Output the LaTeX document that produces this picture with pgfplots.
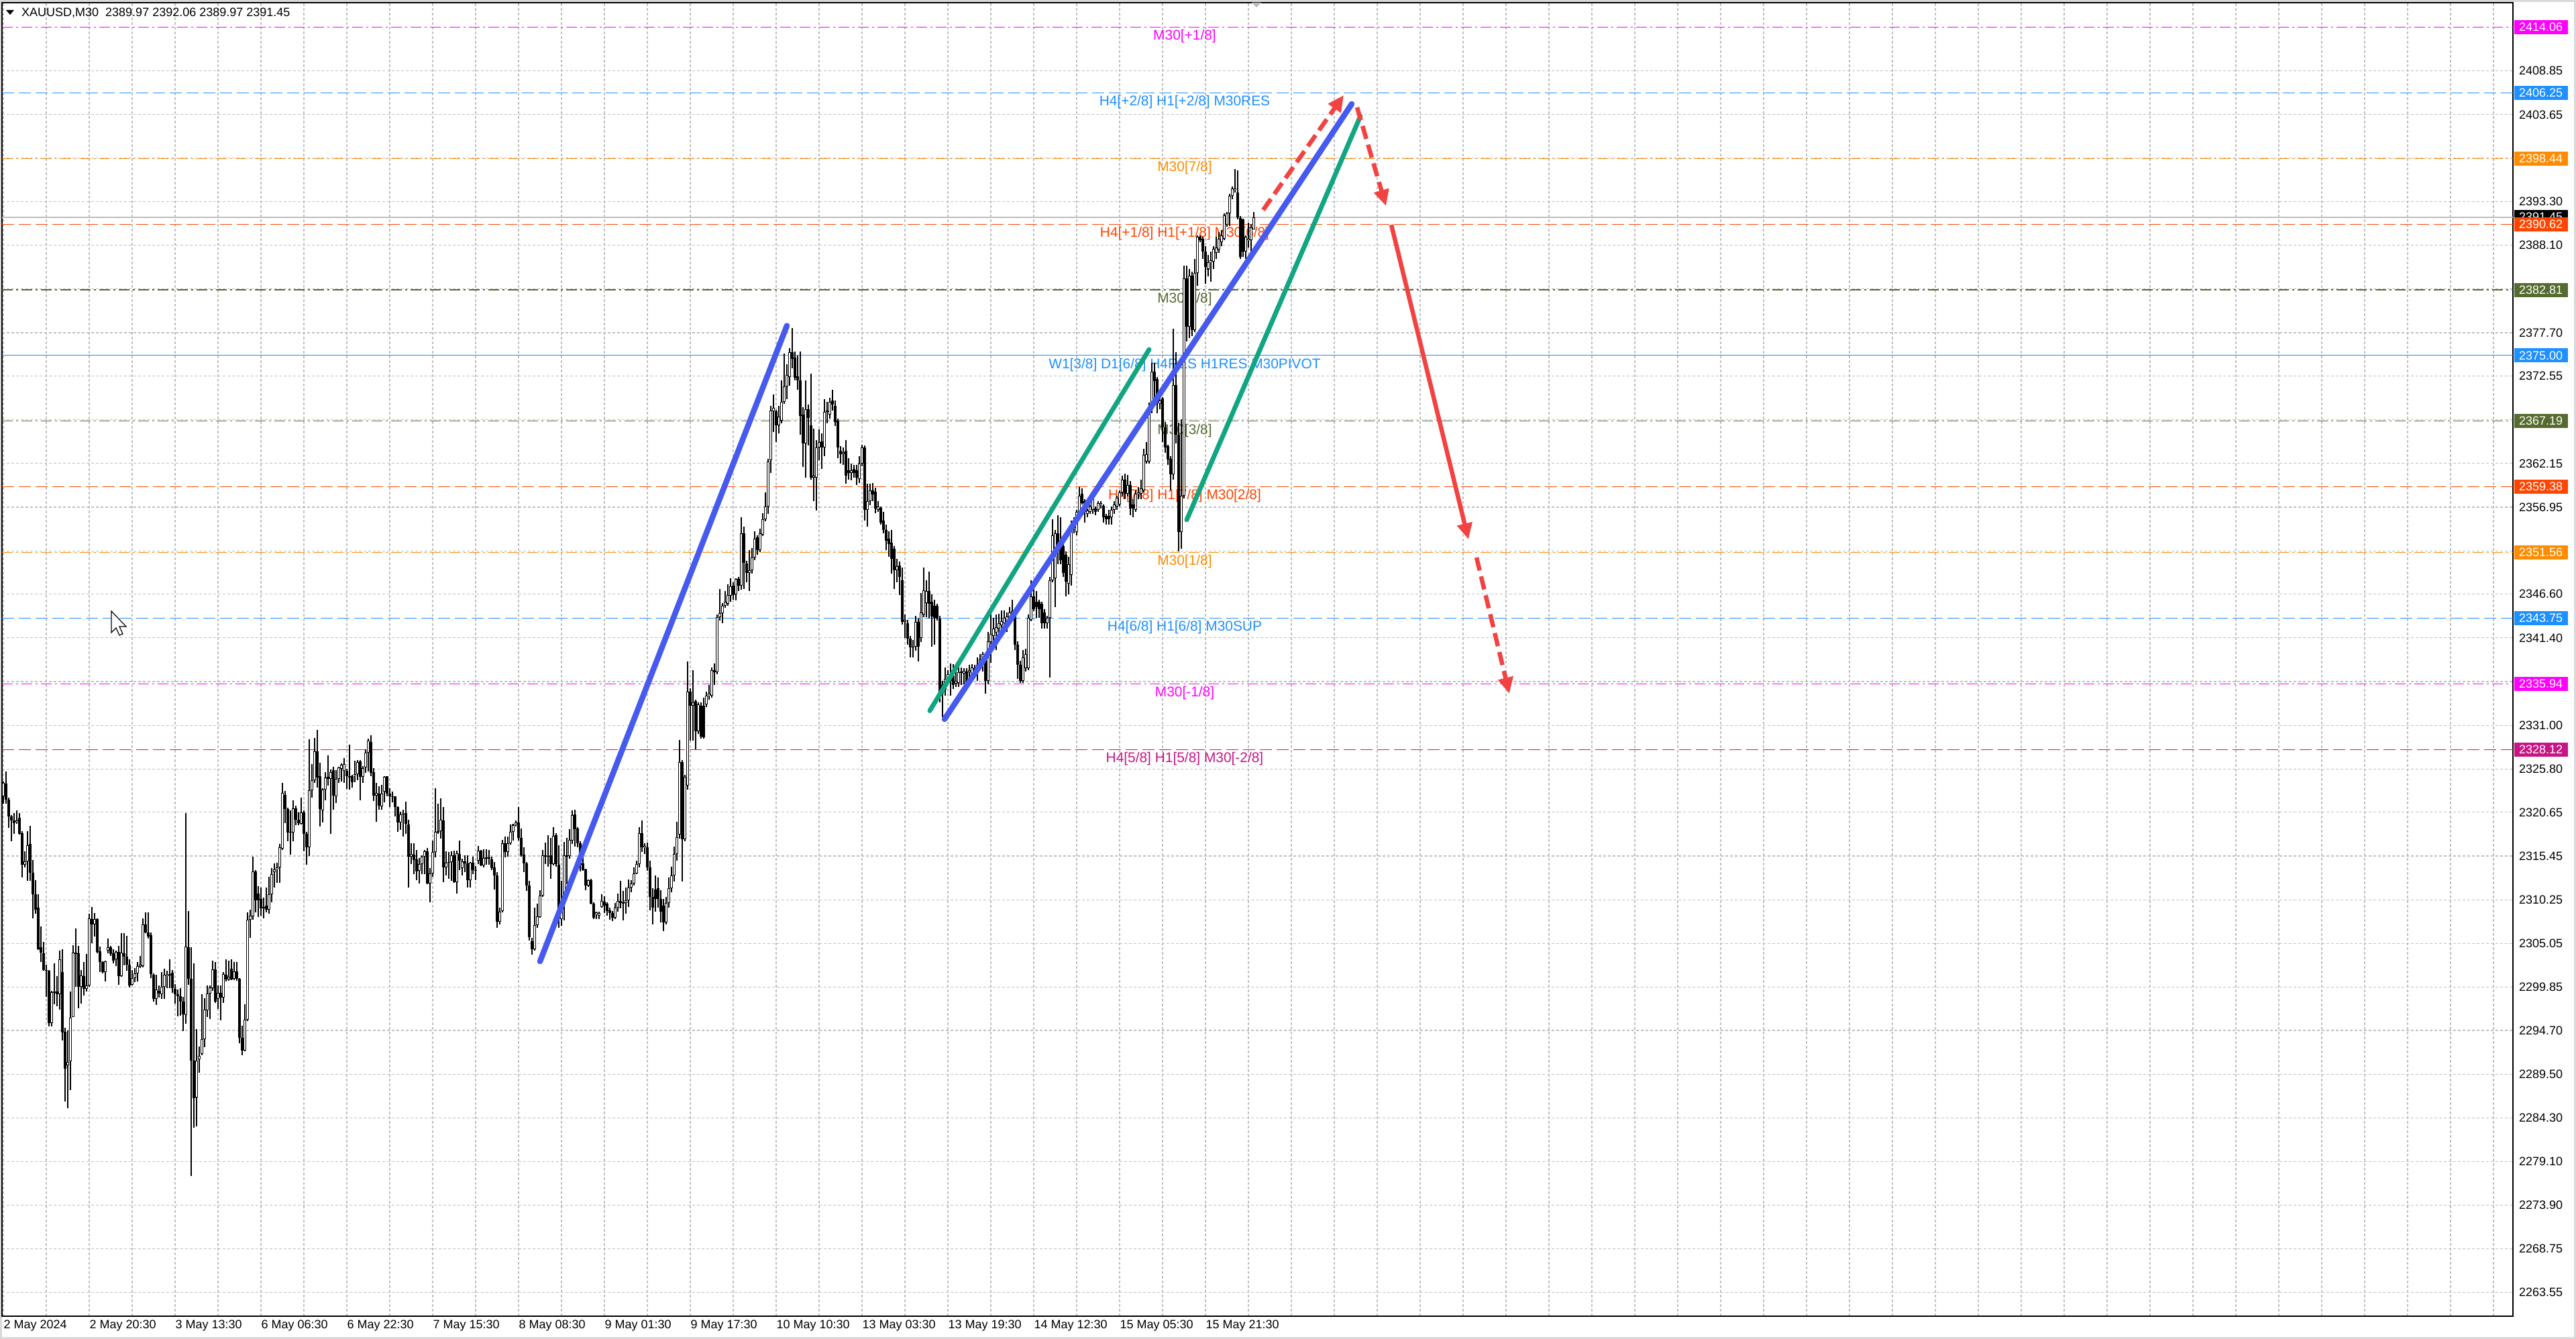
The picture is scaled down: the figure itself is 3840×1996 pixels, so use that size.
\documentclass[border=0pt]{standalone}
\usepackage{fontspec}
\setmainfont{Liberation Sans}
\usepackage{pgfplots}
\pgfplotsset{compat=1.18}
\usepackage{pgfplotstable}
\usetikzlibrary{arrows.meta}

\definecolor{lvMagenta}{RGB}{255,0,255}
\definecolor{lvBlue}{RGB}{30,144,255}
\definecolor{lvOrange}{RGB}{255,140,0}
\definecolor{lvRed}{RGB}{255,69,0}
\definecolor{lvOlive}{RGB}{85,107,47}
\definecolor{lvViolet}{RGB}{199,21,133}
\definecolor{trendBlue}{RGB}{70,90,240}
\definecolor{trendGreen}{RGB}{18,165,130}
\definecolor{arrowRed}{RGB}{242,66,66}
\definecolor{gridGray}{RGB}{192,192,192}
\definecolor{bidGray}{RGB}{190,190,190}

% XAUUSD M30 bars: index, open, high, low, close
\pgfplotstableread{
i o h l c
0 2322.58 2324.31 2321.71 2324.13
1 2324.07 2325.52 2321.71 2322.16
2 2322.16 2322.40 2318.77 2320.15
3 2320.15 2320.30 2317.20 2319.70
4 2319.70 2320.60 2318.10 2319.40
5 2319.50 2320.90 2319.30 2319.70
6 2320.00 2320.60 2318.00 2318.08
7 2318.20 2318.40 2312.90 2314.44
8 2314.44 2316.00 2314.10 2314.86
9 2314.86 2318.40 2312.50 2316.76
10 2316.87 2319.05 2312.50 2313.50
11 2313.50 2315.00 2308.00 2310.88
12 2310.88 2312.60 2308.60 2309.08
13 2309.30 2310.90 2304.30 2304.40
14 2304.58 2307.07 2302.85 2303.99
15 2303.90 2305.27 2301.80 2301.91
16 2301.91 2302.50 2298.70 2301.80
17 2301.80 2301.85 2295.20 2295.58
18 2295.58 2299.45 2295.20 2299.28
19 2299.28 2302.67 2297.83 2299.30
20 2299.30 2301.20 2297.60 2299.00
21 2299.04 2304.23 2297.14 2303.19
22 2301.63 2304.40 2293.50 2294.47
23 2294.54 2295.06 2286.23 2290.14
24 2290.56 2294.70 2285.44 2291.00
25 2291.00 2299.30 2287.60 2296.20
26 2296.34 2304.85 2296.27 2303.96
27 2303.96 2306.83 2299.90 2303.82
28 2303.89 2304.75 2297.30 2299.90
29 2299.90 2301.90 2297.90 2301.22
30 2301.19 2302.85 2298.87 2299.66
31 2299.66 2303.80 2299.30 2300.08
32 2300.08 2308.56 2299.90 2308.04
33 2307.97 2309.42 2305.10 2307.35
34 2307.35 2308.70 2305.86 2307.97
35 2307.97 2308.04 2303.89 2304.06
36 2304.13 2304.65 2301.64 2302.85
37 2302.85 2302.92 2301.46 2301.64
38 2301.64 2303.00 2300.50 2302.92
39 2304.23 2305.60 2303.90 2304.58
40 2304.58 2304.75 2303.54 2303.82
41 2303.90 2304.40 2302.67 2303.02
42 2303.13 2304.23 2302.33 2304.06
43 2304.06 2304.75 2300.15 2301.19
44 2301.19 2306.24 2301.05 2303.96
45 2303.89 2306.24 2302.43 2303.47
46 2303.47 2305.96 2301.81 2302.50
47 2302.50 2303.19 2299.80 2300.08
48 2300.15 2301.91 2300.08 2300.94
49 2300.94 2302.15 2300.42 2301.46
50 2301.46 2302.85 2300.50 2302.33
51 2302.33 2303.60 2302.15 2302.50
52 2302.33 2308.04 2302.22 2307.35
53 2307.35 2308.73 2306.24 2306.38
54 2306.38 2308.73 2305.62 2305.86
55 2306.03 2306.38 2300.94 2301.39
56 2301.29 2301.46 2298.17 2298.45
57 2298.45 2301.36 2297.72 2299.56
58 2299.39 2300.08 2298.62 2299.11
59 2299.04 2301.63 2298.42 2299.90
60 2299.90 2302.05 2298.42 2301.36
61 2301.19 2301.80 2299.73 2301.36
62 2301.46 2303.13 2299.73 2301.29
63 2301.56 2301.88 2299.21 2299.73
64 2299.66 2300.25 2297.93 2299.04
65 2299.04 2299.56 2296.38 2298.76
66 2298.80 2299.73 2296.45 2298.17
67 2298.17 2298.69 2294.61 2296.62
68 2296.58 2320.57 2295.50 2304.65
69 2304.65 2308.90 2300.15 2300.84
70 2300.84 2304.58 2277.40 2291.08
71 2291.08 2302.67 2283.12 2286.68
72 2286.75 2294.89 2283.29 2291.08
73 2291.25 2292.81 2289.69 2291.70
74 2291.94 2299.04 2291.77 2293.68
75 2293.68 2298.52 2292.74 2297.14
76 2297.14 2300.08 2296.27 2299.11
77 2299.11 2300.08 2296.10 2299.80
78 2299.73 2303.02 2299.39 2301.98
79 2301.98 2302.85 2298.00 2298.17
80 2298.45 2300.08 2297.24 2299.21
81 2299.21 2300.08 2295.92 2298.62
82 2298.62 2301.63 2298.00 2301.39
83 2301.29 2303.19 2300.50 2300.77
84 2300.77 2303.02 2300.60 2301.12
85 2302.08 2303.13 2300.70 2300.77
86 2300.84 2302.85 2300.70 2301.74
87 2301.74 2302.85 2300.60 2300.84
88 2300.84 2300.94 2293.16 2293.85
89 2293.85 2295.23 2291.77 2292.29
90 2292.29 2297.83 2292.19 2295.99
91 2295.99 2308.73 2295.85 2307.87
92 2307.87 2309.08 2305.69 2308.32
93 2308.32 2315.38 2307.87 2313.65
94 2313.65 2313.75 2308.73 2310.19
95 2310.98 2311.85 2308.21 2310.19
96 2310.39 2311.67 2308.32 2309.25
97 2309.42 2310.53 2308.04 2309.25
98 2309.53 2311.67 2308.73 2309.08
99 2309.08 2312.95 2308.56 2310.88
100 2310.88 2313.99 2309.94 2313.30
101 2313.51 2314.55 2311.67 2313.85
102 2313.85 2314.69 2312.26 2314.10
103 2314.10 2316.87 2312.26 2316.52
104 2316.35 2324.13 2316.17 2322.99
105 2322.75 2323.20 2319.39 2321.02
106 2321.02 2321.19 2317.21 2318.25
107 2318.25 2320.85 2315.59 2318.35
108 2318.25 2322.06 2317.21 2321.12
109 2321.12 2321.47 2319.11 2319.80
110 2319.80 2320.67 2319.11 2319.39
111 2319.29 2322.40 2319.18 2320.67
112 2320.67 2320.85 2316.00 2318.08
113 2318.08 2318.35 2314.44 2316.52
114 2316.52 2329.33 2315.48 2323.27
115 2323.27 2326.38 2322.40 2324.48
116 2324.48 2329.50 2324.13 2327.94
117 2327.94 2330.43 2323.62 2324.83
118 2325.00 2326.58 2318.94 2321.02
119 2320.86 2323.52 2319.45 2323.38
120 2323.33 2325.43 2322.11 2324.77
121 2324.85 2327.43 2323.86 2324.66
122 2324.66 2325.78 2318.06 2325.43
123 2325.64 2326.04 2320.94 2322.64
124 2322.60 2325.64 2321.73 2324.66
125 2324.66 2326.10 2324.18 2325.99
126 2325.83 2326.44 2324.31 2326.31
127 2325.56 2327.10 2324.18 2326.36
128 2325.56 2325.83 2323.44 2324.93
129 2324.93 2328.70 2323.38 2324.85
130 2324.93 2325.11 2323.60 2324.23
131 2325.00 2326.79 2324.23 2325.19
132 2325.19 2326.84 2324.50 2326.63
133 2326.71 2326.90 2322.10 2324.85
134 2324.85 2326.18 2324.18 2325.91
135 2326.00 2328.17 2325.38 2327.77
136 2327.77 2329.45 2325.51 2329.18
137 2329.02 2329.82 2324.98 2325.38
138 2325.43 2325.91 2322.00 2322.64
139 2322.64 2324.18 2319.53 2322.98
140 2322.90 2323.78 2320.94 2321.47
141 2321.39 2323.92 2320.99 2322.90
142 2323.12 2324.98 2321.84 2324.85
143 2324.93 2324.98 2322.58 2322.85
144 2322.85 2323.52 2321.26 2322.53
145 2322.58 2323.12 2321.84 2322.53
146 2322.53 2322.58 2320.19 2321.31
147 2321.31 2321.39 2318.33 2319.45
148 2319.45 2320.72 2318.59 2320.40
149 2320.40 2320.99 2317.80 2320.50
150 2320.59 2321.92 2318.06 2319.26
151 2319.18 2319.79 2311.68 2315.40
152 2315.35 2316.99 2314.47 2315.67
153 2315.59 2316.99 2313.27 2315.00
154 2315.08 2316.20 2312.61 2313.67
155 2313.67 2315.19 2312.16 2314.47
156 2314.47 2315.54 2313.27 2315.35
157 2315.35 2316.20 2313.27 2315.99
158 2315.99 2316.41 2312.08 2312.21
159 2312.21 2314.02 2309.95 2313.41
160 2313.41 2317.26 2313.01 2315.94
161 2315.94 2323.52 2315.27 2318.33
162 2318.33 2321.65 2318.06 2318.38
163 2318.38 2322.32 2317.53 2319.79
164 2319.71 2321.26 2312.34 2314.07
165 2314.07 2315.99 2313.14 2314.66
166 2314.66 2315.94 2312.74 2314.74
167 2314.74 2315.99 2312.48 2315.54
168 2315.54 2316.07 2312.26 2312.34
169 2312.34 2316.07 2311.01 2315.80
170 2315.72 2317.32 2313.81 2314.87
171 2314.02 2315.14 2313.14 2314.82
172 2314.82 2315.54 2313.54 2314.55
173 2314.55 2315.54 2311.73 2312.61
174 2312.61 2314.74 2311.73 2314.66
175 2314.66 2315.40 2313.27 2313.75
176 2313.67 2314.28 2312.61 2313.81
177 2314.87 2316.68 2314.47 2316.07
178 2316.07 2316.20 2314.28 2314.34
179 2314.34 2316.25 2314.07 2315.19
180 2315.14 2316.25 2314.39 2315.27
181 2315.14 2316.15 2314.39 2315.27
182 2315.08 2315.40 2313.81 2314.02
183 2314.07 2314.74 2311.47 2313.14
184 2313.14 2313.54 2306.89 2307.63
185 2307.63 2309.28 2307.29 2308.88
186 2308.88 2317.40 2308.75 2316.99
187 2316.99 2317.74 2315.27 2315.94
188 2315.94 2317.80 2315.35 2316.99
189 2316.99 2319.18 2316.78 2318.33
190 2318.33 2319.26 2317.26 2319.18
191 2319.18 2319.71 2318.99 2319.45
192 2319.45 2321.26 2317.26 2317.58
193 2317.58 2318.73 2315.40 2315.54
194 2315.62 2316.47 2313.54 2314.55
195 2314.55 2314.74 2311.28 2311.99
196 2311.99 2312.47 2305.43 2305.77
197 2305.35 2305.69 2303.70 2304.36
198 2304.36 2309.28 2304.23 2307.21
199 2307.21 2309.82 2306.89 2308.27
200 2308.22 2311.41 2308.09 2310.75
201 2310.75 2316.15 2310.62 2315.54
202 2315.54 2317.05 2314.47 2315.40
203 2315.40 2317.92 2314.21 2315.46
204 2315.54 2317.58 2312.74 2314.47
205 2314.47 2318.86 2314.34 2317.85
206 2317.92 2318.19 2314.21 2314.47
207 2314.39 2316.73 2306.89 2307.95
208 2307.95 2312.47 2307.16 2310.14
209 2310.14 2317.13 2307.82 2315.54
210 2315.46 2317.58 2312.08 2315.54
211 2315.46 2318.65 2315.14 2317.40
212 2317.32 2320.86 2316.87 2320.32
213 2320.40 2320.94 2316.60 2318.65
214 2318.73 2318.86 2316.52 2316.95
215 2316.95 2317.21 2313.59 2314.39
216 2314.55 2315.67 2313.67 2313.81
217 2313.86 2313.94 2311.36 2311.94
218 2311.94 2312.69 2311.81 2312.61
219 2312.61 2312.74 2309.68 2309.81
220 2309.81 2309.95 2307.95 2308.09
221 2308.48 2308.83 2307.95 2308.75
222 2308.35 2308.80 2307.95 2308.69
223 2309.41 2310.88 2309.28 2310.08
224 2310.03 2310.67 2308.69 2309.55
225 2309.81 2309.95 2308.35 2308.96
226 2309.01 2309.28 2307.90 2308.69
227 2308.69 2308.88 2307.69 2308.09
228 2308.09 2309.87 2307.95 2309.28
229 2309.28 2311.01 2308.80 2310.08
230 2310.08 2312.47 2309.23 2309.87
231 2309.87 2311.28 2307.82 2309.95
232 2309.87 2311.68 2308.62 2310.22
233 2310.22 2312.69 2309.41 2311.68
234 2311.68 2312.61 2311.15 2312.21
235 2312.21 2314.07 2311.94 2313.41
236 2313.41 2314.87 2313.27 2314.47
237 2314.47 2318.91 2314.07 2318.19
238 2318.19 2319.71 2315.94 2316.47
239 2316.47 2316.99 2315.67 2316.68
240 2316.52 2317.05 2313.67 2314.07
241 2314.10 2314.90 2309.00 2310.60
242 2310.60 2311.62 2307.30 2309.33
243 2311.47 2313.15 2308.83 2310.35
244 2311.62 2312.90 2309.33 2310.35
245 2310.35 2311.37 2307.55 2308.83
246 2309.59 2310.35 2306.53 2307.55
247 2307.55 2310.60 2307.30 2309.84
248 2309.84 2312.90 2309.33 2311.62
249 2311.62 2314.17 2311.11 2313.15
250 2313.15 2316.56 2312.39 2315.69
251 2315.69 2319.51 2314.93 2317.73
252 2318.00 2329.28 2317.50 2326.64
253 2326.64 2326.89 2312.39 2317.48
254 2317.48 2325.11 2317.22 2324.85
255 2323.84 2338.60 2323.33 2335.03
256 2335.03 2335.39 2329.18 2333.35
257 2333.35 2337.58 2329.18 2333.76
258 2333.86 2334.02 2328.16 2330.30
259 2330.30 2333.76 2329.94 2333.50
260 2333.35 2333.76 2329.43 2329.69
261 2333.35 2334.27 2329.43 2329.59
262 2333.50 2335.03 2333.20 2334.52
263 2334.52 2335.80 2334.02 2334.78
264 2334.52 2337.84 2334.27 2337.58
265 2337.58 2338.34 2335.80 2337.32
266 2337.32 2344.20 2337.07 2343.84
267 2343.84 2347.25 2343.43 2344.35
268 2344.35 2345.57 2343.18 2345.21
269 2345.21 2346.99 2344.96 2345.72
270 2345.47 2347.76 2345.21 2346.48
271 2346.38 2348.52 2345.72 2347.50
272 2347.60 2348.01 2345.97 2346.48
273 2346.58 2348.52 2345.87 2348.42
274 2348.42 2348.62 2346.99 2347.60
275 2347.60 2355.75 2347.10 2353.86
276 2353.86 2354.63 2347.25 2350.30
277 2350.30 2350.55 2348.01 2349.13
278 2349.13 2351.83 2346.99 2349.44
279 2349.44 2352.08 2349.03 2350.96
280 2350.96 2354.12 2350.66 2353.20
281 2353.35 2353.61 2351.32 2351.83
282 2351.83 2354.37 2351.57 2353.86
283 2353.71 2356.26 2353.50 2355.54
284 2355.54 2358.69 2355.24 2357.07
285 2357.07 2362.67 2356.16 2362.36
286 2362.51 2368.98 2360.99 2368.47
287 2368.37 2370.40 2365.92 2368.77
288 2368.37 2368.50 2364.70 2366.73
289 2366.73 2368.98 2365.72 2367.75
290 2367.25 2372.03 2366.94 2369.49
291 2369.49 2375.24 2369.28 2371.32
292 2371.32 2373.96 2369.79 2372.69
293 2372.44 2375.90 2371.42 2375.39
294 2375.39 2378.29 2373.46 2374.57
295 2374.73 2375.49 2372.03 2372.34
296 2372.54 2374.98 2370.91 2372.03
297 2372.03 2375.49 2365.57 2367.86
298 2367.96 2368.88 2361.75 2364.55
299 2364.55 2372.03 2360.48 2368.62
300 2368.62 2369.13 2364.30 2367.60
301 2366.74 2372.85 2360.22 2360.48
302 2360.48 2366.33 2357.68 2360.73
303 2360.48 2364.91 2356.56 2364.04
304 2364.04 2366.23 2362.51 2364.70
305 2364.80 2365.72 2361.49 2364.04
306 2364.04 2369.79 2363.02 2368.27
307 2368.37 2369.49 2366.94 2368.42
308 2367.96 2369.99 2367.45 2369.49
309 2369.64 2370.91 2368.47 2369.13
310 2368.98 2369.64 2366.58 2367.10
311 2367.25 2367.45 2362.77 2364.04
312 2363.68 2364.19 2362.16 2363.28
313 2363.28 2364.04 2362.00 2363.53
314 2363.68 2364.91 2359.71 2360.73
315 2361.34 2362.77 2360.22 2360.99
316 2360.99 2362.16 2360.12 2361.34
317 2361.49 2362.00 2360.48 2360.99
318 2361.34 2362.00 2359.61 2360.48
319 2360.33 2363.02 2359.82 2362.16
320 2362.16 2364.40 2361.85 2364.04
321 2364.04 2364.30 2355.39 2356.66
322 2356.66 2359.71 2354.62 2357.68
323 2357.68 2359.71 2357.20 2358.95
324 2358.95 2359.82 2357.68 2358.44
325 2358.80 2359.30 2356.26 2356.77
326 2356.66 2357.68 2356.41 2357.07
327 2356.92 2357.07 2354.88 2355.14
328 2355.39 2356.41 2353.86 2354.22
329 2354.22 2354.88 2351.83 2353.00
330 2353.20 2354.12 2351.07 2352.59
331 2352.69 2354.22 2349.03 2350.81
332 2351.98 2352.33 2347.25 2349.44
333 2349.44 2350.81 2348.01 2349.95
334 2350.05 2350.45 2346.48 2348.62
335 2348.26 2349.79 2343.02 2343.33
336 2343.33 2344.20 2341.39 2343.53
337 2343.18 2343.53 2340.63 2341.29
338 2341.29 2341.65 2339.10 2340.27
339 2340.27 2341.14 2339.10 2340.38
340 2340.38 2344.04 2339.87 2343.33
341 2343.33 2343.69 2338.60 2340.38
342 2341.39 2346.74 2340.89 2344.45
343 2344.20 2349.79 2343.84 2347.10
344 2345.57 2348.26 2343.84 2346.99
345 2346.99 2349.28 2343.69 2345.47
346 2345.72 2346.58 2340.38 2343.94
347 2345.21 2345.97 2340.63 2343.84
348 2345.21 2345.47 2343.43 2343.69
349 2343.69 2344.04 2333.76 2334.52
350 2334.78 2336.31 2331.98 2335.80
351 2335.29 2337.84 2334.52 2336.56
352 2336.56 2337.58 2335.80 2337.07
353 2336.31 2338.34 2334.52 2336.92
354 2336.92 2338.24 2335.29 2335.80
355 2336.00 2337.42 2335.54 2336.31
356 2336.05 2337.93 2335.54 2337.32
357 2337.32 2337.84 2335.80 2337.42
358 2337.15 2337.79 2335.87 2337.45
359 2337.37 2337.79 2335.23 2336.08
360 2337.37 2338.22 2336.50 2337.58
361 2337.15 2338.31 2336.50 2337.88
362 2337.79 2338.22 2336.93 2337.58
363 2337.37 2339.08 2336.29 2338.22
364 2338.01 2339.51 2337.58 2338.86
365 2338.65 2339.72 2337.37 2339.51
366 2339.29 2339.51 2334.80 2336.29
367 2336.29 2342.07 2335.87 2341.00
368 2340.90 2344.29 2338.44 2341.85
369 2341.64 2343.78 2340.79 2342.50
370 2342.07 2344.20 2339.93 2342.71
371 2342.50 2344.29 2341.64 2343.14
372 2342.93 2344.63 2342.50 2343.35
373 2343.14 2344.63 2342.93 2343.78
374 2343.35 2344.42 2342.07 2343.99
375 2343.78 2345.06 2343.35 2344.42
376 2344.20 2345.92 2343.78 2344.63
377 2344.20 2344.42 2339.93 2340.57
378 2340.57 2341.00 2336.50 2338.22
379 2338.22 2338.65 2336.08 2336.29
380 2336.29 2339.93 2336.08 2339.08
381 2337.80 2340.14 2337.37 2339.51
382 2337.80 2344.20 2337.58 2343.78
383 2343.57 2348.27 2343.35 2346.34
384 2346.34 2347.63 2344.60 2344.85
385 2345.70 2346.98 2343.78 2345.06
386 2345.70 2345.92 2343.78 2344.85
387 2345.49 2345.70 2342.50 2343.14
388 2344.42 2344.85 2342.50 2343.14
389 2343.14 2343.99 2342.50 2343.78
390 2343.78 2348.69 2336.72 2348.27
391 2348.27 2355.54 2348.05 2353.61
392 2348.48 2354.26 2345.06 2353.83
393 2353.83 2355.96 2350.19 2351.90
394 2352.76 2355.75 2350.19 2350.62
395 2352.33 2353.18 2348.69 2349.12
396 2351.26 2351.68 2346.34 2348.05
397 2347.84 2351.04 2346.56 2350.19
398 2348.91 2355.32 2347.63 2354.90
399 2354.47 2355.75 2353.83 2355.11
400 2354.04 2356.60 2353.61 2356.39
401 2356.18 2359.38 2355.96 2358.31
402 2358.53 2359.17 2357.25 2357.46
403 2357.67 2357.89 2355.11 2356.39
404 2356.18 2356.82 2355.75 2356.60
405 2356.39 2357.25 2356.18 2357.03
406 2356.60 2358.10 2356.18 2357.89
407 2356.82 2357.03 2355.96 2356.39
408 2356.60 2357.67 2356.39 2357.46
409 2357.25 2357.67 2356.82 2357.46
410 2357.12 2357.25 2355.11 2355.75
411 2355.96 2356.18 2354.90 2355.54
412 2355.96 2356.60 2354.90 2355.54
413 2355.75 2357.03 2354.90 2356.60
414 2356.60 2357.67 2356.18 2357.25
415 2357.03 2358.31 2356.60 2358.10
416 2357.25 2358.96 2357.03 2358.74
417 2358.74 2360.67 2358.31 2360.24
418 2360.24 2360.97 2357.89 2358.53
419 2358.53 2360.80 2358.20 2359.60
420 2359.60 2360.03 2355.96 2356.82
421 2357.25 2357.89 2355.75 2356.82
422 2356.60 2358.96 2356.39 2358.53
423 2358.53 2359.38 2357.89 2358.74
424 2358.53 2360.24 2357.89 2359.17
425 2358.96 2363.87 2358.74 2363.23
426 2362.37 2364.73 2362.16 2363.23
427 2362.37 2369.43 2362.16 2368.79
428 2368.79 2374.13 2368.15 2373.06
429 2373.06 2374.13 2369.00 2371.99
430 2372.21 2372.42 2368.15 2369.43
431 2369.22 2370.20 2368.57 2369.64
432 2369.86 2370.07 2364.73 2366.44
433 2366.44 2367.08 2363.44 2364.09
434 2364.22 2364.39 2361.95 2362.59
435 2362.68 2363.02 2358.96 2360.88
436 2360.88 2378.20 2360.20 2371.50
437 2371.50 2375.40 2364.50 2365.60
438 2365.60 2367.00 2351.70 2354.00
439 2354.00 2367.40 2352.00 2358.30
440 2358.30 2385.70 2358.00 2384.20
441 2384.20 2385.70 2376.70 2378.40
442 2378.40 2385.30 2377.10 2384.50
443 2384.50 2385.00 2377.30 2378.00
444 2378.00 2386.50 2377.80 2384.80
445 2384.80 2389.30 2383.30 2389.10
446 2389.10 2389.30 2388.50 2388.70
447 2388.90 2389.10 2386.50 2387.40
448 2387.40 2388.00 2383.50 2385.50
449 2385.25 2386.96 2384.40 2386.10
450 2386.10 2387.40 2383.80 2386.30
451 2386.20 2388.00 2385.30 2387.70
452 2387.20 2389.10 2386.50 2387.80
453 2387.60 2389.70 2387.20 2388.90
454 2388.50 2389.90 2388.00 2389.30
455 2388.90 2391.90 2388.70 2391.70
456 2390.60 2392.10 2390.30 2391.90
457 2391.90 2394.20 2390.40 2394.00
458 2394.00 2395.10 2393.60 2394.90
459 2394.70 2397.20 2394.40 2394.90
460 2394.40 2397.00 2391.20 2391.40
461 2391.40 2391.60 2386.50 2386.70
462 2391.20 2391.30 2386.70 2387.40
463 2387.40 2389.30 2386.50 2389.10
464 2388.70 2390.80 2387.80 2388.90
465 2388.70 2390.60 2387.20 2390.20
466 2389.97 2392.06 2389.97 2391.45
}\candles

\pgfdeclareplotmark{candlenone}{}

\tikzset{
  lvdash/.style={line width=1.2pt, dash pattern=on 18pt off 7pt},
  lvdashdot/.style={line width=1.2pt, dash pattern=on 16pt off 5pt on 3pt off 5pt},
  lvtxt/.style={anchor=north, inner sep=0pt, yshift=-4pt, font=\fontsize{20.9}{23}\selectfont},
  pbox/.style={anchor=west, xshift=2pt, minimum height=21pt, text width=66pt,
    inner xsep=7pt, inner ysep=0pt, text=white, font=\fontsize{18}{18}\selectfont},
}

\begin{document}
\begin{tikzpicture}[x=1pt,y=1pt]
\useasboundingbox (0,0) rectangle (3840,1996);
\fill[white] (0,0) rectangle (3840,1996);
\draw[gray!30, line width=3pt] (1.5,1.5) rectangle (3838.5,1994.5);

\begin{axis}[
  at={(3pt,34pt)}, anchor=south west,
  scale only axis, width=3743pt, height=1958pt,
  xmin=-0.5, xmax=935.25, ymin=2260.706, ymax=2416.971,
  clip=false,
  axis line style={black, line width=1.5pt},
  xtick={0,32,...,448},
  xticklabels={2 May 2024, 2 May 20:30, 3 May 13:30, 6 May 06:30, 6 May 22:30,
    7 May 15:30, 8 May 08:30, 9 May 01:30, 9 May 17:30, 10 May 10:30,
    13 May 03:30, 13 May 19:30, 14 May 12:30, 15 May 05:30, 15 May 21:30},
  minor xtick={16,32,...,928},
  ytick={2263.55,2268.75,2273.90,2279.10,2284.30,2289.50,2294.70,2299.85,2305.05,
    2310.25,2315.45,2320.65,2325.80,2331.00,2336.20,2341.40,2346.60,2351.75,2356.95,
    2362.15,2367.35,2372.55,2377.70,2382.90,2388.10,2393.30,2398.50,2403.65,2408.85},
  yticklabels={2263.55,2268.75,2273.90,2279.10,2284.30,2289.50,2294.70,2299.85,2305.05,
    2310.25,2315.45,2320.65,2325.80,2331.00,2336.20,2341.40,2346.60,2351.75,2356.95,
    2362.15,2367.35,2372.55,2377.70,2382.90,2388.10,2393.30,2398.50,2403.65,2408.85},
  xtick pos=bottom, ytick pos=right, yticklabel pos=right,
  major tick length=0pt, minor tick length=0pt,
  grid=both,
  major grid style={draw=gridGray, dash pattern=on 4pt off 3pt, line width=1.2pt},
  minor grid style={draw=gridGray, dash pattern=on 4pt off 3pt, line width=1.2pt},
  yticklabel style={anchor=west, inner sep=0pt, xshift=9pt, font=\fontsize{18}{20}\selectfont},
  xticklabel style={anchor=west, inner sep=0pt, xshift=0.5pt, yshift=-14pt, font=\fontsize{18}{20}\selectfont},
  /pgf/number format/assume math mode=true,
]

% Murrey math levels
\addplot[draw=lvMagenta, lvdashdot] coordinates {(-0.5,2414.06) (935.25,2414.06)};
\addplot[draw=lvBlue, lvdash] coordinates {(-0.5,2406.25) (935.25,2406.25)};
\addplot[draw=lvOrange, lvdashdot] coordinates {(-0.5,2398.44) (935.25,2398.44)};
\addplot[draw=bidGray, line width=1.5pt] coordinates {(-0.5,2391.45) (935.25,2391.45)};
\addplot[draw=lvRed, lvdash] coordinates {(-0.5,2390.62) (935.25,2390.62)};
\addplot[draw=lvOlive, lvdashdot] coordinates {(-0.5,2382.81) (935.25,2382.81)};
\addplot[draw=lvBlue, line width=1.2pt] coordinates {(-0.5,2375.00) (935.25,2375.00)};
\addplot[draw=lvOlive, lvdashdot] coordinates {(-0.5,2367.19) (935.25,2367.19)};
\addplot[draw=lvRed, lvdash] coordinates {(-0.5,2359.38) (935.25,2359.38)};
\addplot[draw=lvOrange, lvdashdot] coordinates {(-0.5,2351.56) (935.25,2351.56)};
\addplot[draw=lvBlue, lvdash] coordinates {(-0.5,2343.75) (935.25,2343.75)};
\addplot[draw=lvMagenta, lvdashdot] coordinates {(-0.5,2335.94) (935.25,2335.94)};
\addplot[draw=lvViolet, lvdash] coordinates {(-0.5,2328.12) (935.25,2328.12)};

% level captions
\node[lvtxt, text=lvMagenta] at (axis cs:440.25,2414.06) {M30[+1/8]};
\node[lvtxt, text=lvBlue] at (axis cs:440.25,2406.25) {H4[+2/8] H1[+2/8] M30RES};
\node[lvtxt, text=lvOrange] at (axis cs:440.25,2398.44) {M30[7/8]};
\node[lvtxt, text=lvRed] at (axis cs:440.25,2390.62) {H4[+1/8] H1[+1/8] M30[6/8]};
\node[lvtxt, text=lvOlive] at (axis cs:440.25,2382.81) {M30[5/8]};
\node[lvtxt, text=lvBlue] at (axis cs:440.25,2375.00) {W1[3/8] D1[6/8] H4RES H1RES M30PIVOT};
\node[lvtxt, text=lvOlive] at (axis cs:440.25,2367.19) {M30[3/8]};
\node[lvtxt, text=lvRed] at (axis cs:440.25,2359.38) {H4[7/8] H1[7/8] M30[2/8]};
\node[lvtxt, text=lvOrange] at (axis cs:440.25,2351.56) {M30[1/8]};
\node[lvtxt, text=lvBlue] at (axis cs:440.25,2343.75) {H4[6/8] H1[6/8] M30SUP};
\node[lvtxt, text=lvMagenta] at (axis cs:440.25,2335.94) {M30[-1/8]};
\node[lvtxt, text=lvViolet] at (axis cs:440.25,2328.12) {H4[5/8] H1[5/8] M30[-2/8]};

% candlesticks: wick (low to high), body outline, hollow interior of rising bars
\addplot[only marks, mark=candlenone,
  error bars/.cd, y dir=plus, y explicit, error mark=none,
  error bar style={line width=1.05pt, draw=black}]
  table[x=i, y=l, y error plus expr=\thisrow{h}-\thisrow{l}] {\candles};
\addplot[only marks, mark=candlenone,
  error bars/.cd, y dir=both, y explicit, error mark=none,
  error bar style={line width=3.4pt, draw=black}]
  table[x=i, y expr=(\thisrow{o}+\thisrow{c})/2,
        y error expr={max(abs(\thisrow{c}-\thisrow{o})/2,0.045)}] {\candles};
\addplot[only marks, mark=candlenone,
  error bars/.cd, y dir=both, y explicit, error mark=none,
  error bar style={line width=1.4pt, draw=white}]
  table[x=i, y expr=(\thisrow{o}+\thisrow{c})/2,
        y error expr={max((\thisrow{c}-\thisrow{o})/2-0.08,0)}] {\candles};

% trend channels
\addplot[draw=trendBlue, line width=8.5pt, line cap=round] coordinates {(200,2302.92) (292,2378.54)};
\addplot[draw=trendBlue, line width=8.5pt, line cap=round] coordinates {(350.75,2331.73) (502.5,2404.92)};
\addplot[draw=trendGreen, line width=7pt, line cap=round] coordinates {(345.25,2332.73) (427,2375.71)};
\addplot[draw=trendGreen, line width=7pt, line cap=round] coordinates {(441,2355.44) (505.75,2403.48)};

% projected path
\addplot[draw=arrowRed, line width=6.5pt, dash pattern=on 20pt off 9pt, -{Triangle[length=24pt,width=22pt]}]
  coordinates {(469.5,2392.31) (499.5,2405.96)};
\addplot[draw=arrowRed, line width=6.5pt, dash pattern=on 20pt off 9pt, -{Triangle[length=24pt,width=22pt]}]
  coordinates {(504.5,2404.52) (515.25,2392.79)};
\addplot[draw=arrowRed, line width=6.5pt, -{Triangle[length=24pt,width=22pt]}]
  coordinates {(517.25,2390.55) (546,2353.12)};
\addplot[draw=arrowRed, line width=6.5pt, dash pattern=on 20pt off 9pt, -{Triangle[length=24pt,width=22pt]}]
  coordinates {(549,2350.97) (561.25,2334.77)};

% anchors for the price tags on the right scale
\coordinate (pBid) at (axis cs:935.25,2391.45);
\coordinate (p1) at (axis cs:935.25,2414.06);
\coordinate (p2) at (axis cs:935.25,2406.25);
\coordinate (p3) at (axis cs:935.25,2398.44);
\coordinate (p4) at (axis cs:935.25,2390.62);
\coordinate (p5) at (axis cs:935.25,2382.81);
\coordinate (p6) at (axis cs:935.25,2375.00);
\coordinate (p7) at (axis cs:935.25,2367.19);
\coordinate (p8) at (axis cs:935.25,2359.38);
\coordinate (p9) at (axis cs:935.25,2351.56);
\coordinate (p10) at (axis cs:935.25,2343.75);
\coordinate (p11) at (axis cs:935.25,2335.94);
\coordinate (p12) at (axis cs:935.25,2328.12);
\end{axis}

% price tags
\node[pbox, fill=black] at (pBid) {2391.45};
\node[pbox, fill=lvMagenta] at (p1) {2414.06};
\node[pbox, fill=lvBlue] at (p2) {2406.25};
\node[pbox, fill=lvOrange] at (p3) {2398.44};
\node[pbox, fill=lvRed] at (p4) {2390.62};
\node[pbox, fill=lvOlive] at (p5) {2382.81};
\node[pbox, fill=lvBlue] at (p6) {2375.00};
\node[pbox, fill=lvOlive] at (p7) {2367.19};
\node[pbox, fill=lvRed] at (p8) {2359.38};
\node[pbox, fill=lvOrange] at (p9) {2351.56};
\node[pbox, fill=lvBlue] at (p10) {2343.75};
\node[pbox, fill=lvMagenta] at (p11) {2335.94};
\node[pbox, fill=lvViolet] at (p12) {2328.12};

% chart header
\fill[black] (9,1981) -- (21,1981) -- (15,1974) -- cycle;
\node[anchor=west, inner sep=0pt, font=\fontsize{18}{20}\selectfont] at (32,1977)
  {XAUUSD,M30\ \ 2389.97 2392.06 2389.97 2391.45};

% chart shift marker
\fill[gray!55] (1866,1992) -- (1880,1992) -- (1873,1985) -- cycle;

% mouse pointer
\draw[black, fill=white, line width=1.2pt, line join=miter]
  (166,1085) -- (166,1053) -- (173,1060) -- (178,1049) -- (183,1051) -- (178,1062) -- (188,1062) -- cycle;
\end{tikzpicture}
\end{document}
